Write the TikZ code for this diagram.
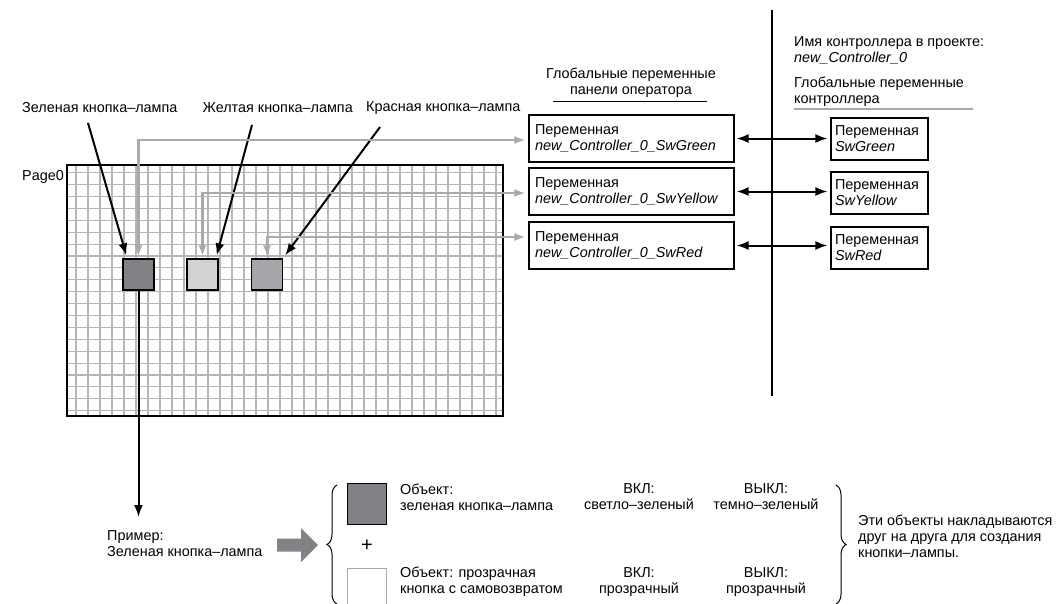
\documentclass[tikz,border=0pt]{standalone}
\usepackage{fontspec}
\setmainfont{Liberation Sans}
\usetikzlibrary{arrows.meta,decorations.pathreplacing}

\definecolor{gridgray}{HTML}{B5B5B5}
\definecolor{lampgreen}{HTML}{808285}
\definecolor{lampyellow}{HTML}{D1D2D4}
\definecolor{lampred}{HTML}{A4A6A9}
\definecolor{linkgray}{HTML}{A7A9AC}

\tikzset{
  txt/.style={inner sep=0pt, align=left, font=\fontsize{14.4}{16}\selectfont},
  lamp/.style={draw, line width=1.3pt, minimum size=31pt, inner sep=0pt},
  opbox/.style={txt, draw, line width=1.1pt, inner xsep=6pt, text width=193pt, minimum height=47pt},
  ctrlbox/.style={txt, draw, line width=1.1pt, inner xsep=4pt, text width=89pt, minimum height=42pt},
  lblarrow/.style={line width=2pt, -{Latex[length=12pt,width=9pt]}},
  linkarrow/.style={linkgray, line width=2.2pt, {Latex[length=11pt,width=8pt]}-{Latex[length=11pt,width=8pt]}},
  dblarrow/.style={line width=2pt, {Latex[length=12pt,width=9pt]}-{Latex[length=12pt,width=9pt]}},
  curly/.style={decorate, decoration={brace, amplitude=10pt}, line width=1pt}
}

\begin{document}
\begin{tikzpicture}[x=1pt, y=-1pt]
\useasboundingbox (0,0) rectangle (1062,603);

\foreach \i in {0,...,35}
  \draw[gridgray, line width=1.1pt] (76+12*\i,165) -- (76+12*\i,416);
\foreach \j in {0,...,20}
  \draw[gridgray, line width=1.1pt] (67,172.7+11.9*\j) -- (503,172.7+11.9*\j);
\draw[line width=1.6pt] (67,165) rectangle (503,416);

\node[txt, anchor=west] (page) at (22,177) {Page0};

\node[lamp, fill=lampgreen] (gLamp) at (138.5,274.5) {};
\node[lamp, fill=lampyellow] (yLamp) at (202.5,274.5) {};
\node[lamp, fill=lampred] (rLamp) at (267,274.5) {};

\node[txt, anchor=west] (lblGreen) at (22,108) {Зеленая кнопка–лампа};
\node[txt, anchor=east] (lblYellow) at (353,108) {Желтая кнопка–лампа};
\node[txt, anchor=west] (lblRed) at (366,108) {Красная кнопка–лампа};

\coordinate (gStart) at (88,123);
\coordinate (yStart) at (252,125);
\coordinate (rStart) at (380,127);

\draw[lblarrow] (gStart) -- ([shift={(4,-3)}]gLamp.north west);
\draw[lblarrow] (yStart) -- ([shift={(-2,-3)}]yLamp.north east);
\draw[lblarrow] (rStart) -- ([shift={(2,-3)}]rLamp.north east);

\node[txt, align=center] (opHead) at (631,82.5) {Глобальные переменные\\панели оператора};
\draw[line width=1pt] (553,101) -- (707,101);

\node[opbox] (opGreen) at (631.5,138.5) {Переменная\\\textit{new\_Controller\_0\_SwGreen}};
\node[opbox] (opYellow) at (631.5,191.5) {Переменная\\\textit{new\_Controller\_0\_SwYellow}};
\node[opbox] (opRed) at (631.5,245.5) {Переменная\\\textit{new\_Controller\_0\_SwRed}};

\draw[linkarrow, shorten <=3pt, shorten >=2pt] (opGreen.west |- 0,140) -| (gLamp.north);
\draw[linkarrow, shorten <=3pt, shorten >=2pt] (opYellow.west |- 0,193) -| (yLamp.north);
\draw[linkarrow, shorten <=3pt, shorten >=2pt] (opRed.west |- 0,237) -| (rLamp.north);

\draw[line width=1.1pt] (772,10) -- (772,396);

\node[txt, anchor=west] (ctrlName) at (794,50.5) {Имя контроллера в проекте:\\\textit{new\_Controller\_0}};
\node[txt, anchor=west] (ctrlHead) at (794,91.5) {Глобальные переменные\\контроллера};
\draw[linkgray, line width=1.3pt] (794,109) -- (973,109);

\node[ctrlbox] (ctrlGreen) at (879.5,139) {Переменная\\\textit{SwGreen}};
\node[ctrlbox] (ctrlYellow) at (879.5,193) {Переменная\\\textit{SwYellow}};
\node[ctrlbox] (ctrlRed) at (879.5,248) {Переменная\\\textit{SwRed}};

\draw[dblarrow, shorten <=2pt, shorten >=3pt] (opGreen.east) -- (ctrlGreen.west |- opGreen.east);
\draw[dblarrow, shorten <=2pt, shorten >=3pt] (opYellow.east) -- (ctrlYellow.west |- opYellow.east);
\draw[dblarrow, shorten <=2pt, shorten >=3pt] (opRed.east) -- (ctrlRed.west |- opRed.east);

\node[txt, anchor=west] (example) at (107,544) {Пример:\\Зеленая кнопка–лампа};
\draw[lblarrow] (gLamp.south) -- (gLamp.south |- 0,517);

\fill[lampgreen] (277,538.5) -- (301,538.5) -- (301,528) -- (318,545) -- (301,562) -- (301,551.5) -- (277,551.5) -- cycle;

\draw[curly] (337,604) -- (337,485);
\draw[curly] (836,485) -- (836,604);

\node[lamp, fill=lampgreen, minimum width=39pt, minimum height=41pt, anchor=north west] (objGreen) at (347,483) {};
\node[lamp, draw=linkgray, minimum width=39pt, minimum height=41pt, anchor=north west] (objBtn) at (347,568) {};
\node[txt, font=\fontsize{20}{20}\selectfont] (plus) at (367,546) {+};

\node[txt, anchor=west] (objGreenTxt) at (400,497) {Объект:\\зеленая кнопка–лампа};
\node[txt, align=center] (onGreen) at (639,497) {ВКЛ:\\светло–зеленый};
\node[txt, align=center] (offGreen) at (766,497) {ВЫКЛ:\\темно–зеленый};

\node[txt, anchor=west] (objBtnTxt) at (400,582) {Объект: прозрачная\\кнопка с самовозвратом};
\node[txt, align=center] (onBtn) at (639,582) {ВКЛ:\\прозрачный};
\node[txt, align=center] (offBtn) at (766,582) {ВЫКЛ:\\прозрачный};

\node[txt, anchor=west] (note) at (858,536) {Эти объекты накладываются\\друг на друга для создания\\кнопки–лампы.};
\end{tikzpicture}
\end{document}
